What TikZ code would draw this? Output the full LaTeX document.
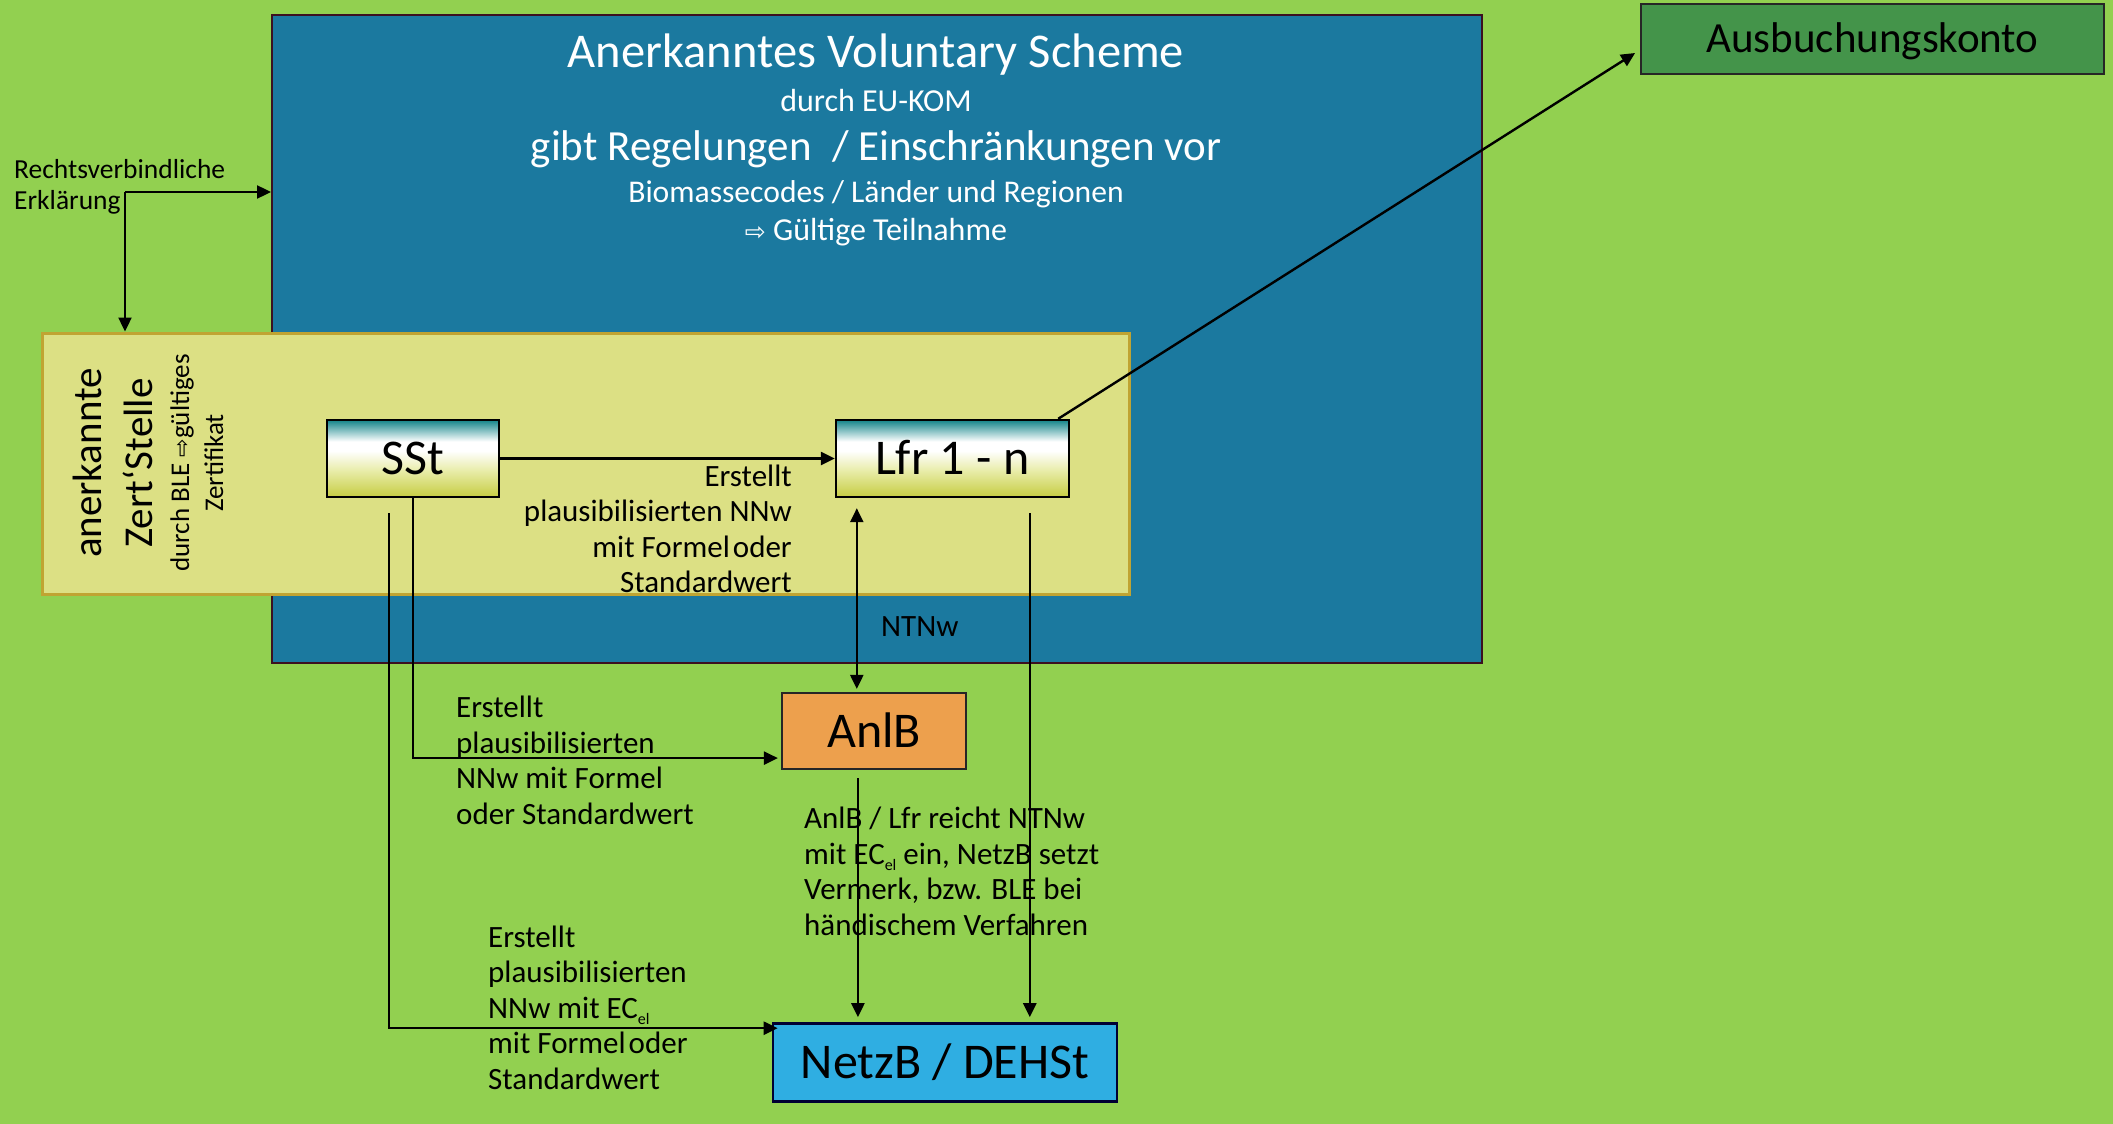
\documentclass[tikz,border=0pt]{standalone}
\usepackage{fontspec}
\setmainfont{Carlito}
\newfontfamily\dejavu{DejaVu Sans}
\usetikzlibrary{arrows.meta,calc}
\definecolor{bg}{HTML}{92D050}
\definecolor{bluebox}{HTML}{1B799F}
\definecolor{bluedraw}{HTML}{3C1020}
\definecolor{ybox}{HTML}{DCE084}
\definecolor{ydraw}{HTML}{C0A432}
\definecolor{ausbfill}{HTML}{44944A}
\definecolor{anlbfill}{HTML}{EDA04D}
\definecolor{netzfill}{HTML}{2FAEE2}
\definecolor{tealtop}{HTML}{13858A}
\definecolor{ymid}{HTML}{E8ECA8}
\definecolor{ybot}{HTML}{C6CD42}
\pgfdeclareverticalshading{boxgrad}{100bp}{color(0bp)=(ybot); color(25bp)=(ybot); color(42bp)=(ymid); color(55bp)=(white); color(61bp)=(white); color(75bp)=(tealtop); color(100bp)=(tealtop)}
\newcommand\elsub{\raisebox{-0.2em}{\fontsize{16}{16}\selectfont el}}
\tikzset{
  conn/.style={line width=2.4pt, -{Triangle[length=14pt,width=13pt]}},
  dblconn/.style={line width=2.4pt, {Triangle[length=14pt,width=13pt]}-{Triangle[length=14pt,width=13pt]}},
  lbl/.style={font=\fontsize{31}{35.5}\selectfont, inner sep=0pt, text=black},
  wt/.style={text=white, inner sep=0pt, anchor=base},
  boxtxt/.style={font=\fontsize{50}{55}\selectfont, text height=32pt, text depth=0pt, inner sep=0pt},
  gradbox/.style={boxtxt, draw=black, line width=2.4pt, shading=boxgrad, minimum height=77pt},
  plainbox/.style={boxtxt, draw=black!85, line width=2.2pt},
  rot/.style={rotate=90, anchor=base, inner sep=0pt}
}
\begin{document}
\begin{tikzpicture}[x=1pt,y=-1pt]
\fill[bg] (0,0) rectangle (2113,1124);
\useasboundingbox (0,0) rectangle (2113,1124);

% Voluntary scheme box
\node[draw=bluedraw, line width=2pt, fill=bluebox, minimum width=1210pt, minimum height=648pt, inner sep=0pt] (vs) at (877,339) {};
\node[wt, font=\fontsize{48.5}{50}\selectfont] (t1) at (876,68) {Anerkanntes Voluntary Scheme};
\node[wt, font=\fontsize{32}{34}\selectfont] (t2) at (876,111) {durch EU-KOM};
\node[wt, font=\fontsize{43}{45}\selectfont] (t3) at (876,160) {gibt Regelungen\hspace{0.25em} / Einschränkungen vor};
\node[wt, font=\fontsize{31.6}{33}\selectfont] (t4) at (876,202) {Biomassecodes / Länder und Regionen};
\node[wt, font=\fontsize{32}{34}\selectfont] (t5) at (876,240) {{\dejavu\fontsize{25}{25}\selectfont ⇨} Gültige Teilnahme};

% Zertifizierungsstelle box
\node[draw=ydraw, line width=3pt, fill=ybox, minimum width=1087pt, minimum height=261pt, inner sep=0pt] (zs) at (585.5,463.5) {};
\node[rot, font=\fontsize{41}{41}\selectfont] (z1) at (101,463) {anerkannte};
\node[rot, font=\fontsize{41}{41}\selectfont] (z2) at (152,463) {Zert‘Stelle};
\node[rot, font=\fontsize{27}{27}\selectfont] (z3) at (189,463) {durch BLE {\dejavu\fontsize{22}{22}\selectfont ⇨}gültiges};
\node[rot, font=\fontsize{27}{27}\selectfont] (z4) at (223,463) {Zertifikat};

% boxes
\node[gradbox, minimum width=172pt] (sst) at (413,458.5) {SSt};
\node[gradbox, minimum width=233pt] (lfr) at (952.5,458.5) {Lfr 1 - n};
\node[plainbox, fill=anlbfill, minimum width=184pt, minimum height=76pt] (anlb) at (874,731) {AnlB};
\node[plainbox, draw=black!80!blue, line width=2.6pt, fill=netzfill, minimum width=344pt, minimum height=78pt] (netz) at (945,1062.5) {NetzB / DEHSt};
\node[plainbox, line width=1.8pt, fill=ausbfill, minimum width=463pt, minimum height=70pt, font=\fontsize{43}{45}\selectfont, text height=27.7pt] (ausb) at (1872.5,39) {Ausbuchungskonto};

% connectors
\coordinate (rk) at (125,192);
\draw[conn] (rk) -- (rk -| vs.west);
\draw[conn] (rk) -- (rk |- zs.north);
\draw[conn] (sst.east) -- (lfr.west);
\draw[conn] ($(lfr.north east)+(-12,0)$) -- ($(ausb.west)+(-5,14)$);
\coordinate (dA) at ($(lfr.south west)+(22,10)$);
\draw[dblconn] (dA) -- ($(dA |- anlb.north)+(0,-3)$);
\draw[conn] (sst.south) |- ($(anlb.south west)+(-3,-12)$);
\coordinate (s2) at ($(sst.south west)+(63,15)$);
\draw[conn] (s2) |- ($(netz.north west)+(6,6)$);
\coordinate (a2) at ($(anlb.south west)+(77,8)$);
\draw[conn] (a2) -- ($(a2 |- netz.north)+(0,-5)$);
\coordinate (l2) at ($(lfr.south west)+(195,15)$);
\draw[conn] (l2) -- ($(l2 |- netz.north)+(0,-5)$);

% labels (anchor = baseline of the last line)
\node[lbl, font=\fontsize{27.5}{31}\selectfont, align=left, anchor=base west] (rv) at (14,209) {Rechtsverbindliche\\Erklärung};
\node[lbl, align=right, anchor=base east] (la) at (792,592.5) {Erstellt\\plausibilisierten NNw\\mit Formel\kern3pt oder\\Standardwert};
\node[lbl, align=left, anchor=base west] (lb) at (456,824) {Erstellt\\plausibilisierten\\NNw mit Formel\\oder Standardwert};
\node[lbl, align=left, anchor=base west] (lc) at (488,1089) {Erstellt\\plausibilisierten\\NNw mit EC\elsub\\mit Formel\kern3pt oder\\Standardwert};
\node[lbl, align=left, anchor=base west] (ld) at (804,935) {AnlB / Lfr reicht NTNw\\mit EC\elsub{} ein, NetzB setzt\\Vermerk, bzw. BLE bei\\händischem Verfahren};
\node[lbl, anchor=base west] (nt) at (881,636) {NTNw};
\end{tikzpicture}
\end{document}
